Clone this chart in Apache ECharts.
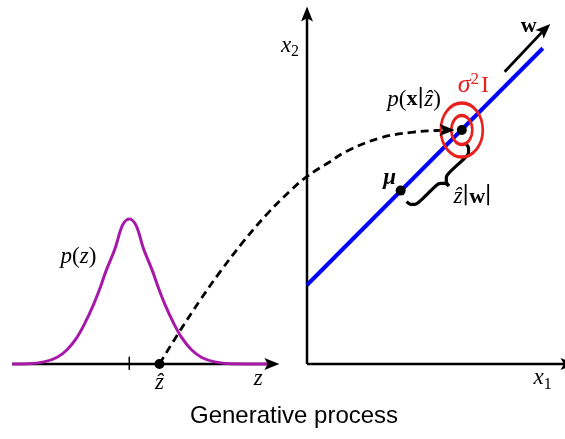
<!DOCTYPE html>
<html><head><meta charset="utf-8">
<script src="https://cdn.jsdelivr.net/npm/echarts@6/dist/echarts.min.js"></script>
<style>html,body{margin:0;padding:0;background:#fff}#c{width:565px;height:439px}</style>
</head><body><div id="c"></div>
<script>
// Diagram coordinates (one shared unit system; origin at the x1/x2 corner)
const pzCurve = [[-11.43,0],[-10.8,0.01],[-10.2,0.08],[-9.7,0.25],[-9.3,0.55],[-8.93,1.01],[-8.6,1.6],[-8.28,2.29],[-8.0,3.0],[-7.8,3.58],[-7.44,4.48],[-7.15,5.38],[-6.89,5.62],[-6.63,5.38],[-6.34,4.48],[-5.98,3.58],[-5.78,3.0],[-5.5,2.29],[-5.18,1.6],[-4.85,1.01],[-4.48,0.55],[-4.08,0.25],[-3.58,0.08],[-2.98,0.01],[-1.45,0]];
const dashedPath = [[-5.72,0],[-4.99,1.18],[-4.15,2.46],[-3.37,3.57],[-2.47,4.74],[-1.56,5.8],[-0.66,6.7],[-0.01,7.26],[0.89,7.84],[1.54,8.25],[2.83,8.76],[4.12,8.99],[5.03,9.05],[5.43,9.07]];
const braceLower = [[5.5,6.9],[5.35,7.0],[5.17,7.0],[5.01,6.92],[4.33,6.27],[4.18,6.19],[4.01,6.19],[3.86,6.29]];
const braceUpper = [[5.5,6.9],[5.4,7.06],[5.4,7.24],[5.49,7.39],[6.17,8.04],[6.26,8.19],[6.26,8.37],[6.17,8.52]];
const latentLine = [[0,3.06],[9.14,12.24]];
const zAxisLine = [[-11.43,0],[-1.36,0]];
const x1AxisLine = [[0,0],[10.12,0]];
const x2AxisLine = [[0,0],[0,13.57]];
const wArrowLine = [[7.66,11.33],[9.22,12.98]];
const meanTick = [[-6.89,0.28],[-6.89,-0.23]];
const dots = [[-5.72,0],[3.63,6.72],[6.0,9.07]];
const circleCenter = [6.0,9.07];
const arrowHeads = [[0,13.57],[-1.36,0],[10.12,0],[9.22,12.98],[5.43,9.07]];
const arrowAngles = [0,-90,-90,-46,-90];
const labelTexts = [
  '{i|p}{r|(}{i|z}{r|)}',
  '{i|ẑ}',
  '{i|z}',
  '{i|x}{s|1}',
  '{i|x}{s|2}',
  '{i|p}{r|(}{b|x}{r|∣}{i|ẑ}{r|)}',
  '{ri|σ}{rs|2}{rr|I}',
  '{bi|μ}',
  '{i|ẑ}{r|∣}{b|w}{r|∣}',
  '{b|w}'
];
const labelAnchors = [[-8.86,4.13],[-5.72,-0.72],[-1.89,-0.6],[9.13,-0.56],[-0.66,12.34],[4.15,10.25],[6.45,10.8],[3.2,7.2],[6.42,6.47],[8.59,13.1]];
const titleText = 'Generative process';

const serif = '"Liberation Serif","DejaVu Serif",serif';
const red = '#e82020';
const ink = '#000';
const rich = {
  i:{fontFamily:serif,fontStyle:'italic',fontSize:23,lineHeight:28,color:ink},
  r:{fontFamily:serif,fontSize:23,lineHeight:28,color:ink},
  b:{fontFamily:serif,fontWeight:'bold',fontSize:22,lineHeight:28,color:ink},
  bi:{fontFamily:serif,fontWeight:'bold',fontStyle:'italic',fontSize:23,lineHeight:28,color:ink},
  s:{fontFamily:serif,fontSize:16,lineHeight:16,verticalAlign:'bottom',color:ink},
  ri:{fontFamily:serif,fontStyle:'italic',fontSize:26,lineHeight:28,color:red},
  rr:{fontFamily:serif,fontSize:24,lineHeight:28,color:red,padding:[0,0,0,2]},
  rs:{fontFamily:serif,fontSize:17,lineHeight:17,verticalAlign:'top',color:red}
};

function seg(data, color, width, extra) {
  return Object.assign({type:'line', data:data, showSymbol:false, symbol:'none', clip:false,
    lineStyle:{color:color,width:width}, silent:true, z:2}, extra||{});
}
const arrowPath = 'path://M5,0L10,14L5,11L0,14Z';

const series = [
  seg(zAxisLine,'#000',2.5),
  seg(x1AxisLine,'#000',2.5),
  seg(x2AxisLine,'#000',2.5),
  seg(meanTick,'#000',1.5),
  seg(latentLine,'#0000ff',4,{z:3}),
  seg(pzCurve,'#a818a8',3,{smooth:0.35,z:3}),
  seg(dashedPath,'#000',2.8,{smooth:0.4,lineStyle:{color:'#000',width:2.8,type:[8,5]},z:4}),
  seg(wArrowLine,'#000',2.8,{z:4}),
  seg(braceUpper,'#000',3.2,{smooth:0.3,z:4}),
  seg(braceLower,'#000',3.2,{smooth:0.3,z:4}),
  {type:'scatter', silent:true, z:5, data:[
     {value:circleCenter, symbolSize:[21,29]},
     {value:circleCenter, symbolSize:[42,54]}],
   symbol:'circle', itemStyle:{color:'rgba(0,0,0,0)',borderColor:red,borderWidth:3,opacity:1}},
  {type:'scatter', silent:true, z:6, data:dots, symbol:'circle', symbolSize:10, itemStyle:{color:'#000',opacity:1}},
  {type:'scatter', silent:true, z:6, clip:false,
   data:arrowHeads.map((p,k)=>({value:p, symbolRotate:arrowAngles[k]})),
   symbol:arrowPath, symbolSize:[12,15], itemStyle:{color:'#000',opacity:1}},
  {type:'scatter', silent:true, z:7, symbolSize:0, itemStyle:{opacity:1},
   data:labelAnchors.map((p,k)=>({value:p, label:{show:true, position:'inside', formatter:labelTexts[k], rich:rich}}))}
];

const chart = echarts.init(document.getElementById('c'));
chart.setOption({
  animation:false,
  backgroundColor:'#fff',
  title:{text:titleText, left:185, top:399, textStyle:{fontFamily:'"Liberation Sans",Arial,sans-serif',fontWeight:'normal',fontSize:24,color:'#000'}},
  grid:{left:0,right:0,top:0,bottom:0,containLabel:false},
  xAxis:{type:'value',min:-11.9,max:10.0,show:false},
  yAxis:{type:'value',min:-2.91,max:14.11,show:false},
  series:series
});
</script></body></html>
